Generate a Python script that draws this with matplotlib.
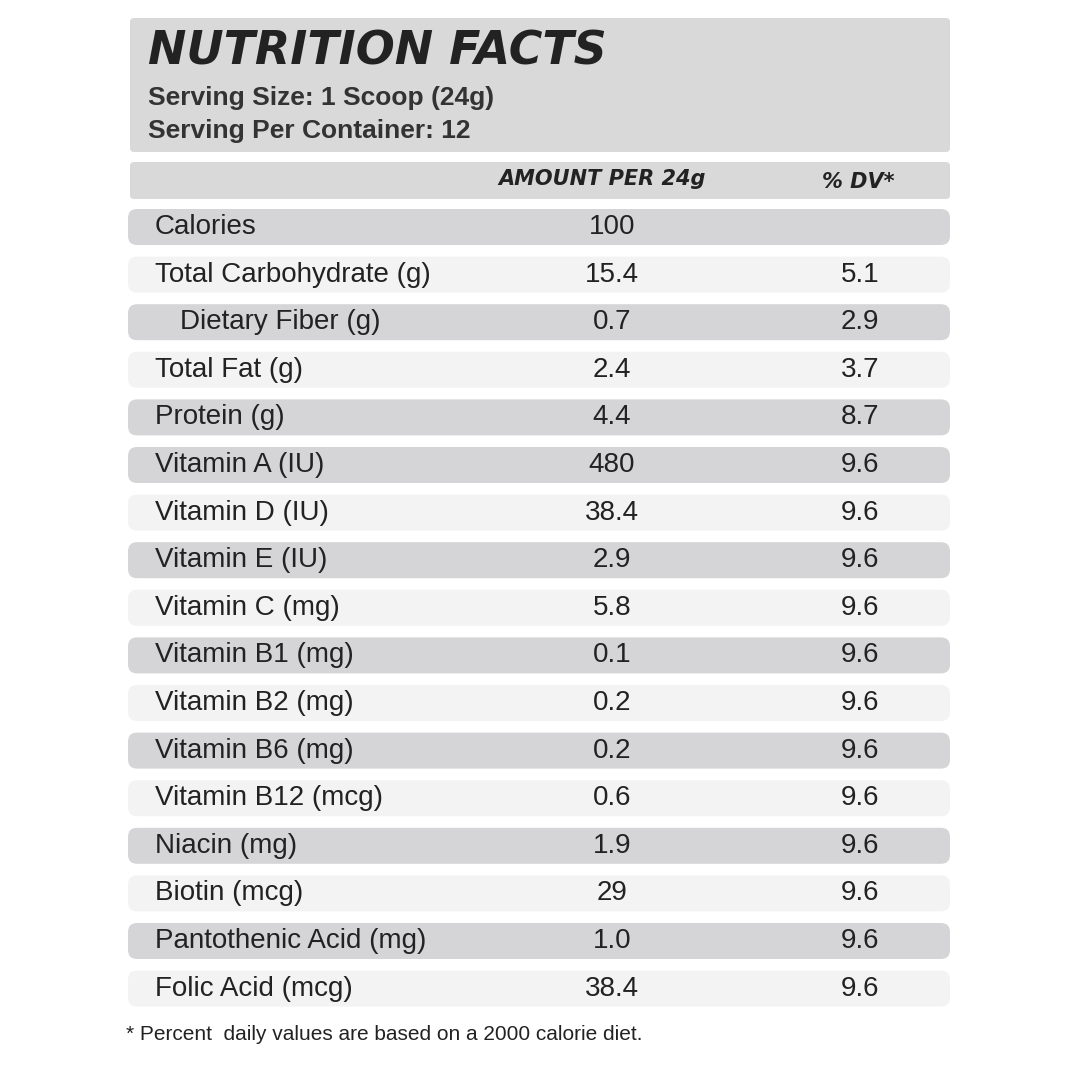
import matplotlib.pyplot as plt
from matplotlib.patches import FancyBboxPatch

# data
nutrients = ["Calories", "Total Carbohydrate (g)", "Dietary Fiber (g)", "Total Fat (g)",
             "Protein (g)", "Vitamin A (IU)", "Vitamin D (IU)", "Vitamin E (IU)",
             "Vitamin C (mg)", "Vitamin B1 (mg)", "Vitamin B2 (mg)", "Vitamin B6 (mg)",
             "Vitamin B12 (mcg)", "Niacin (mg)", "Biotin (mcg)", "Pantothenic Acid (mg)",
             "Folic Acid (mcg)"]
amounts = ["100", "15.4", "0.7", "2.4", "4.4", "480", "38.4", "2.9", "5.8", "0.1",
           "0.2", "0.2", "0.6", "1.9", "29", "1.0", "38.4"]
dv = ["", "5.1", "2.9", "3.7", "8.7", "9.6", "9.6", "9.6", "9.6", "9.6", "9.6",
      "9.6", "9.6", "9.6", "9.6", "9.6", "9.6"]
dark_rows = [1, 0, 1, 0, 1, 1, 0, 1, 0, 1, 0, 1, 0, 1, 0, 1, 0]
indent = [0, 0, 1, 0, 0, 0, 0, 0, 0, 0, 0, 0, 0, 0, 0, 0, 0]

plt.rcParams['font.family'] = ['Liberation Sans', 'DejaVu Sans']
fig = plt.figure(figsize=(10.8, 10.8), dpi=100)
ax = fig.add_axes([0, 0, 1, 1])
ax.set_xlim(0, 1080)
ax.set_ylim(1080, 0)
ax.axis('off')

txt = "#222222"
dark = "#d5d5d7"
light = "#f3f3f3"

# header box
ax.add_patch(FancyBboxPatch((130, 18), 820, 134, boxstyle="round,pad=0,rounding_size=4",
                            fc="#d9d9d9", ec="none"))
ax.text(148, 52, "NUTRITION FACTS", fontsize=33, fontweight='heavy', style='italic',
        family='DejaVu Sans', color=txt, va='center')
ax.text(148, 98, "Serving Size: 1 Scoop (24g)", fontsize=19, fontweight='bold',
        color="#333333", va='center')
ax.text(148, 131, "Serving Per Container: 12", fontsize=19, fontweight='bold',
        color="#333333", va='center')

# column header row
ax.add_patch(FancyBboxPatch((130, 162), 820, 37, boxstyle="round,pad=0,rounding_size=4",
                            fc="#d9d9d9", ec="none"))
ax.text(602, 179, "AMOUNT PER 24g", fontsize=15, fontweight='heavy', style='italic',
        family='DejaVu Sans', color=txt, ha='center', va='center')
ax.text(858, 182, "% DV*", fontsize=15, fontweight='heavy', style='italic',
        family='DejaVu Sans', color=txt, ha='center', va='center')

y0 = 227
step = 47.6
for i, name in enumerate(nutrients):
    y = y0 + i * step
    ax.add_patch(FancyBboxPatch((128, y - 18), 822, 36,
                                boxstyle="round,pad=0,rounding_size=9",
                                fc=dark if dark_rows[i] else light, ec="none"))
    ax.text(155 + 25 * indent[i], y, name, fontsize=20, color=txt, va='center')
    ax.text(612, y, amounts[i], fontsize=20, color=txt, va='center', ha='center')
    ax.text(860, y, dv[i], fontsize=20, color=txt, va='center', ha='center')

ax.text(126, 1035, "* Percent  daily values are based on a 2000 calorie diet.",
        fontsize=15, color=txt, va='center')

fig.savefig("out.png", dpi=100, facecolor="white")
